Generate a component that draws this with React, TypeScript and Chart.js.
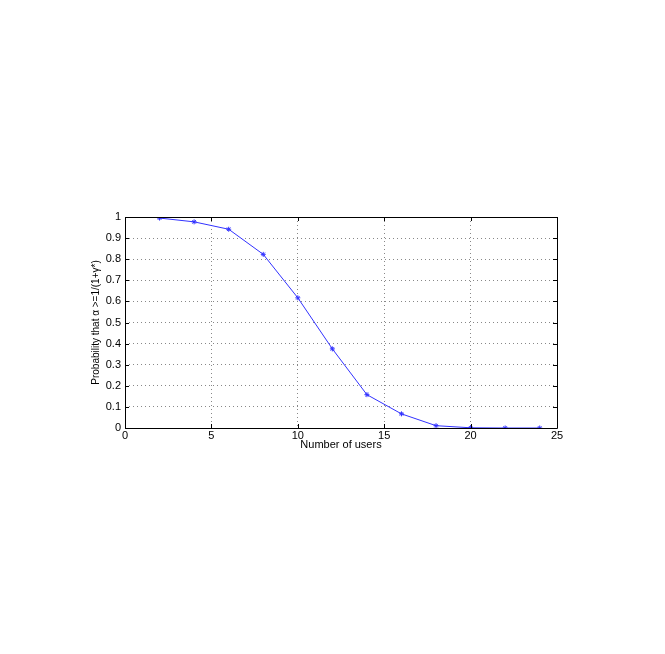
import React, { useEffect, useRef } from "react";
import { Chart, registerables } from "chart.js";

Chart.register(...registerables);

const usersX = [2, 4, 6, 8, 10, 12, 14, 16, 18, 20, 22, 24];
const probY = [0.995, 0.977, 0.942, 0.823, 0.617, 0.375, 0.158, 0.067, 0.011, 0.001, 0.0, 0.0];
const xTicks = [0, 5, 10, 15, 20, 25];
const yTicks = [0, 0.1, 0.2, 0.3, 0.4, 0.5, 0.6, 0.7, 0.8, 0.9, 1];

const W = 665;
const H = 654;

const frameTicks = {
  id: "frameTicks",
  afterDraw(chart: any) {
    const { ctx, chartArea } = chart;
    const { left, right, top, bottom } = chartArea;
    const xs = chart.scales.x;
    const ys = chart.scales.y;
    ctx.save();
    ctx.strokeStyle = "#000";
    ctx.lineWidth = 1;
    ctx.setLineDash([]);
    ctx.beginPath();
    ctx.rect(Math.round(left) + 0.5, Math.round(top) + 0.5, Math.round(right - left), Math.round(bottom - top));
    ctx.stroke();
    const len = 4;
    ctx.beginPath();
    for (const t of xTicks) {
      const px = Math.round(xs.getPixelForValue(t)) + 0.5;
      ctx.moveTo(px, bottom);
      ctx.lineTo(px, bottom - len);
      ctx.moveTo(px, top);
      ctx.lineTo(px, top + len);
    }
    for (const t of yTicks) {
      const py = Math.round(ys.getPixelForValue(t)) + 0.5;
      ctx.moveTo(left, py);
      ctx.lineTo(left + len, py);
      ctx.moveTo(right, py);
      ctx.lineTo(right - len, py);
    }
    ctx.stroke();
    ctx.restore();
  },
};

const font = "Liberation Sans, Arial, sans-serif";

export default function App() {
  const ref = useRef<HTMLCanvasElement | null>(null);
  useEffect(() => {
    if (!ref.current) return;
    const chart = new Chart(ref.current, {
      type: "line",
      data: {
        datasets: [
          {
            data: usersX.map((x, i) => ({ x, y: probY[i] })),
            borderColor: "rgb(50,50,255)",
            backgroundColor: "rgb(50,50,255)",
            borderWidth: 1,
            pointStyle: "star",
            pointRadius: 2.5,
            pointBorderWidth: 1,
            tension: 0,
          },
        ],
      },
      options: {
        responsive: false,
        animation: false,
        events: [],
        layout: { padding: { left: 90, top: 217, right: W - 557, bottom: H - 428 - 24 } },
        plugins: { legend: { display: false }, tooltip: { enabled: false } },
        scales: {
          x: {
            type: "linear",
            min: 0,
            max: 25,
            afterFit(scale: any) {
              scale.height = 24;
            },
            afterBuildTicks(scale: any) {
              scale.ticks = xTicks.map((v) => ({ value: v }));
            },
            border: { display: false, dash: [1, 3] },
            grid: {
              color: "#888",
              drawTicks: false,
              tickLength: 0,
            },
            ticks: {
              color: "#000",
              font: { family: font, size: 11 },
              padding: 1,
              maxRotation: 0,
            },
            title: {
              display: true,
              text: "Number of users",
              color: "#000",
              font: { family: font, size: 11 },
              padding: { top: 0, bottom: 0 },
            },
          },
          y: {
            type: "linear",
            min: 0,
            max: 1,
            afterFit(scale: any) {
              scale.width = 35;
            },
            afterBuildTicks(scale: any) {
              scale.ticks = yTicks.map((v) => ({ value: v }));
            },
            border: { display: false, dash: [1, 3] },
            grid: {
              color: "#888",
              drawTicks: false,
              tickLength: 0,
            },
            ticks: {
              color: "#000",
              font: { family: font, size: 11 },
              padding: 4,
              callback: (v: any) => String(Math.round(Number(v) * 10) / 10),
            },
            title: {
              display: true,
              text: "Probability that α >=1/(1+γ*)",
              color: "#000",
              font: { family: font, size: 10 },
              padding: { top: 0, bottom: 0 },
            },
          },
        },
      },
      plugins: [frameTicks],
    });
    return () => chart.destroy();
  }, []);
  return (
    <div style={{ position: "absolute", left: 0, top: 0, width: W, height: H, background: "#fff" }}>
      <canvas ref={ref} width={W} height={H} style={{ display: "block" }} />
    </div>
  );
}
